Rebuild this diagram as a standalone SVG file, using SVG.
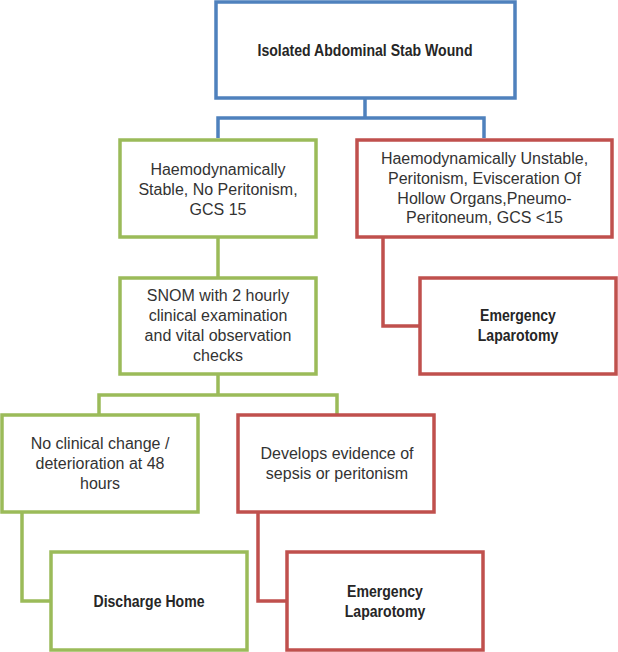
<svg xmlns="http://www.w3.org/2000/svg" width="618" height="652" viewBox="0 0 618 652">
<style>
.box{fill:#fff;stroke-width:3.5}
.blue{stroke:#4F81BD}
.green{stroke:#9BBB59}
.red{stroke:#C0504D}
.t{font-family:"Liberation Sans",Arial,sans-serif;font-size:16px;fill:#333;text-anchor:middle}
.b{font-family:"Liberation Sans",Arial,sans-serif;font-size:16px;font-weight:bold;fill:#262626;text-anchor:middle}
.c{fill:none;stroke-width:3.5}
</style>
<rect width="618" height="652" fill="#fff"/>
<g id="connectors">
<path class="c blue" d="M365 98 V118 M218 138 V118 H484 V138"/>
<path class="c green" d="M218 237 V278"/>
<path class="c red" d="M383 237 V326 H420"/>
<path class="c green" d="M218 374 V395 M99 415 V395 H337 V415"/>
<path class="c green" d="M22 512 V601 H51"/>
<path class="c red" d="M258 512 V601 H287"/>
</g>
<g id="n1"><rect class="box blue" x="216" y="2" width="299" height="96"/><text class="b" transform="translate(365 56) scale(0.88 1)">Isolated Abdominal Stab Wound</text></g>
<g id="n2"><rect class="box green" x="120" y="140" width="196" height="97"/><text class="t" x="218" y="175">Haemodynamically</text><text class="t" x="218" y="195">Stable, No Peritonism,</text><text class="t" x="218" y="215">GCS 15</text></g>
<g id="n3"><rect class="box red" x="357" y="140" width="255" height="97"/><text class="t" x="484.5" y="164">Haemodynamically Unstable,</text><text class="t" x="484.5" y="184">Peritonism, Evisceration Of</text><text class="t" x="484.5" y="204">Hollow Organs,Pneumo-</text><text class="t" x="484.5" y="223">Peritoneum, GCS &lt;15</text></g>
<g id="n4"><rect class="box green" x="120" y="278" width="196" height="96"/><text class="t" x="218" y="301">SNOM with 2 hourly</text><text class="t" x="218" y="321">clinical examination</text><text class="t" x="218" y="341">and vital observation</text><text class="t" x="218" y="361">checks</text></g>
<g id="n5"><rect class="box red" x="420" y="278" width="196" height="96"/><text class="b" transform="translate(518 321) scale(0.88 1)">Emergency</text><text class="b" transform="translate(518 341) scale(0.88 1)">Laparotomy</text></g>
<g id="n6"><rect class="box green" x="2" y="415" width="196" height="97"/><text class="t" x="100" y="449">No clinical change /</text><text class="t" x="100" y="469">deterioration at 48</text><text class="t" x="100" y="489">hours</text></g>
<g id="n7"><rect class="box red" x="238" y="415" width="196" height="97"/><text class="t" x="337" y="459">Develops evidence of</text><text class="t" x="337" y="479">sepsis or peritonism</text></g>
<g id="n8"><rect class="box green" x="51" y="552" width="196" height="98"/><text class="b" transform="translate(149 607) scale(0.88 1)">Discharge Home</text></g>
<g id="n9"><rect class="box red" x="287" y="552" width="196" height="98"/><text class="b" transform="translate(385 597) scale(0.88 1)">Emergency</text><text class="b" transform="translate(385 617) scale(0.88 1)">Laparotomy</text></g>
</svg>
